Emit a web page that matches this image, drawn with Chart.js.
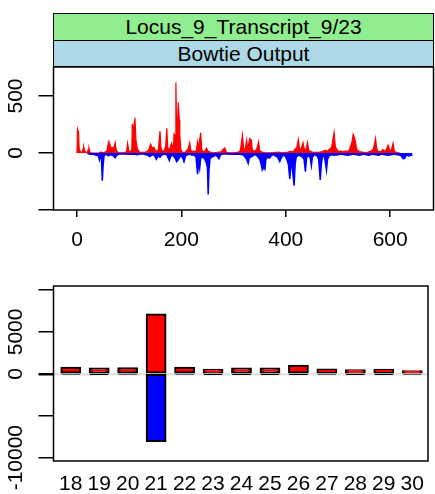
<!DOCTYPE html>
<html lang="en">
<head>
<meta charset="UTF-8">
<title>Locus_9_Transcript_9/23</title>
<script src="https://cdn.jsdelivr.net/npm/chart.js@4.4.0/dist/chart.umd.min.js"></script>
<style>
  body { margin: 0; background: #fff; font-family: 'Liberation Sans', Arial, sans-serif; }
  #wrap { position: relative; width: 435px; height: 494px; overflow: hidden; }
  canvas { position: absolute; left: 0; }
  .strip {
    position: absolute; left: 53px; width: 381px; box-sizing: border-box;
    border: 1.5px solid #000; display: flex; align-items: center; justify-content: center;
    font-size: 21px; color: #000;
  }
</style>
</head>
<body>
<div id="wrap">
  <canvas id="readsChart" width="435" height="262" style="top:0"></canvas>
  <canvas id="sizeChart" width="435" height="232" style="top:262px"></canvas>
  <div class="strip" style="top:13px;height:28px;background:#90ee90">Locus_9_Transcript_9/23</div>
  <div class="strip" style="top:40px;height:27px;background:#add8e6">Bowtie Output</div>
</div>
<script>
// position along transcript, read count (plus strand, red)
var plusReads = [[0,0],[1,210],[2,195],[3,185],[4,50],[6,15],[8,5],[10,10],[12,40],[13,55],[15,15],[18,5],[20,10],[22,35],[23,42],[25,5],[28,0],[42,0],[45,8],[48,3],[52,6],[56,12],[58,30],[60,90],[62,45],[63,78],[65,35],[67,50],[70,40],[72,70],[73,90],[75,30],[77,10],[80,3],[90,2],[95,12],[97,85],[99,20],[102,8],[105,30],[106,255],[108,190],[110,280],[111,310],[113,110],[115,50],[117,25],[120,5],[130,5],[135,15],[138,35],[141,78],[143,60],[145,35],[147,50],[150,25],[153,12],[156,30],[159,193],[161,45],[163,20],[166,12],[168,35],[170,60],[172,216],[174,45],[176,25],[178,40],[181,85],[183,50],[185,70],[186,167],[188,150],[189.5,617],[191,140],[192,190],[194,444],[196,290],[197,158],[199,30],[202,8],[206,3],[210,20],[213,35],[216,90],[218,25],[221,10],[224,18],[227,8],[229,30],[231,99],[233,45],[235,110],[237,178],[239,30],[242,8],[245,15],[248,41],[251,15],[254,10],[258,3],[262,2],[268,5],[272,8],[276,10],[280,32],[283,46],[286,8],[290,2],[302,3],[308,5],[313,20],[317,158],[319,45],[322,25],[325,113],[327,35],[331,128],[334,114],[336,25],[340,15],[344,30],[348,99],[350,20],[355,8],[360,3],[372,2],[386,8],[392,2],[404,8],[410,15],[414,10],[418,35],[421,45],[424,119],[426,45],[429,25],[433,90],[436,25],[439,35],[441.5,94],[444,20],[448,15],[452,5],[464,8],[470,12],[476,25],[480,15],[484,35],[488,50],[490,110],[492.5,181],[495,55],[498,30],[502,12],[506,18],[510,8],[514,18],[518,12],[522,30],[525,70],[527,100],[529,164],[531,140],[533,110],[535,55],[537,25],[541,12],[546,8],[552,3],[558,8],[564,18],[568,35],[572,129],[574,40],[577,15],[582,12],[586,30],[590,15],[593,35],[596,70],[599,25],[602,20],[605.5,85],[608,15],[612,5],[618,0]];

// minus strand (blue), drawn below zero
var minusReads = [[20,0],[22,-8],[26,-12],[30,-10],[34,-15],[38,-20],[41,-25],[43,-61],[45,-15],[47,-60],[48.5,-243],[50,-110],[52,-20],[56,-10],[60,-25],[64,-15],[68,-20],[71,-30],[73,-41],[76,-20],[80,-10],[86,-8],[92,-10],[98,-12],[104,-8],[110,-12],[116,-15],[120,-10],[126,-8],[132,-15],[136,-20],[140,-32],[144,-15],[148,-20],[152,-55],[155,-25],[159,-38],[163,-15],[168,-10],[172,-15],[177,-67],[180,-20],[184,-25],[188,-45],[191,-76],[194,-61],[197,-35],[200,-25],[203,-50],[205,-76],[208,-25],[212,-15],[216,-10],[220,-20],[224,-15],[228,-35],[231,-187],[233,-85],[235,-135],[237,-45],[241,-35],[245,-55],[248,-90],[250,-130],[251.3,-363],[253,-140],[255,-45],[259,-35],[263,-25],[267,-20],[272,-50],[275,-15],[280,-10],[288,-8],[296,-12],[304,-8],[312,-12],[318,-15],[322,-35],[325,-55],[328,-91],[330,-45],[333,-35],[337,-25],[341,-15],[345,-25],[350,-55],[353,-100],[355,-149],[358,-126],[360,-142],[362,-55],[365,-35],[369,-45],[372,-25],[376,-15],[380,-25],[384,-35],[388.5,-76],[391,-45],[394,-25],[398,-20],[402,-55],[405,-100],[407.7,-228],[410,-80],[412,-120],[414,-200],[416,-287],[418,-95],[420,-35],[424,-20],[428,-25],[432,-35],[435,-55],[437.6,-164],[440,-35],[444,-25],[447,-45],[449,-111],[451,-35],[455,-15],[459,-20],[463,-55],[466,-237],[468,-105],[470,-35],[474,-25],[478,-149],[480,-55],[483,-25],[488,-15],[494,-20],[500,-15],[506,-10],[512,-15],[518,-20],[524,-15],[530,-10],[536,-15],[542,-20],[548,-10],[554,-15],[560,-20],[566,-10],[572,-15],[578,-20],[584,-10],[590,-15],[596,-20],[602,-15],[608,-10],[614,-15],[620,-20],[625,-50],[628,-47],[631,-15],[635,-25],[640,-20],[641,0]];

var readTicksX = [0, 200, 400, 600];
var readTicksY = [-500, 0, 500];
var readLabelsY = { '500': '500', '0': '0' };

// read length distribution
var readSizes = [18, 19, 20, 21, 22, 23, 24, 25, 26, 27, 28, 29, 30];
var plusBySize = [720, 640, 670, 7070, 720, 480, 630, 630, 950, 510, 430, 500, 320];
var minusBySize = [-40, -30, -60, -8010, -40, -20, -30, -30, -30, -40, -20, -30, -40];
var sizeTicksY = [-10000, -5000, 0, 5000, 10000];
var sizeLabelsY = { '5000': '5000', '0': '0', '-10000': '-10000' };

Chart.defaults.font.family = "'Liberation Sans', Arial, sans-serif";
Chart.defaults.font.size = 21;
Chart.defaults.color = '#000';

// frame around the plotting region, like R's box()
var boxPlugin = {
  id: 'box',
  afterDraw: function (chart) {
    var a = chart.chartArea, ctx = chart.ctx;
    ctx.save();
    ctx.strokeStyle = '#000';
    ctx.lineWidth = 1.5;
    ctx.strokeRect(a.left, a.top, a.right - a.left, a.bottom - a.top);
    ctx.restore();
  }
};

function toPoints(arr) {
  return arr.map(function (p) { return { x: p[0], y: p[1] }; });
}

function pairUp(xs, ys) {
  return xs.map(function (x, i) { return { x: x, y: ys[i] }; });
}

function fixedTicks(values) {
  return function (scale) {
    scale.ticks = values.map(function (v) { return { value: v }; });
  };
}

// grow the bar so the outline sits on its edge, but not for slivers
function barInflate(c) {
  return c.raw && Math.abs(c.raw.y) > 100 ? 1 : 0;
}

var readsChart = new Chart(document.getElementById('readsChart'), {
  type: 'line',
  data: {
    datasets: [{
      data: toPoints(minusReads),
      borderColor: '#0000ff',
      backgroundColor: '#0000ff',
      borderWidth: 1.5,
      pointRadius: 0,
      fill: 'origin'
    }, {
      data: toPoints(plusReads),
      borderColor: '#ff0000',
      backgroundColor: '#ff0000',
      borderWidth: 1.2,
      pointRadius: 0,
      fill: 'origin'
    }]
  },
  options: {
    responsive: false,
    animation: false,
    devicePixelRatio: 1,
    layout: { padding: { top: 67, right: 1.5, left: 0, bottom: 0 } },
    plugins: { legend: { display: false }, tooltip: { enabled: false } },
    scales: {
      x: {
        type: 'linear',
        min: -45,
        max: 683,
        border: { display: false },
        grid: { drawOnChartArea: false, tickLength: 7, color: '#000', lineWidth: 1.5 },
        ticks: { autoSkip: false, maxRotation: 0, padding: 11 },
        afterBuildTicks: fixedTicks(readTicksX),
        afterFit: function (s) { s.height = 52; }
      },
      y: {
        min: -500,
        max: 754,
        border: { display: false },
        grid: { drawOnChartArea: false, tickLength: 15, color: '#000', lineWidth: 1.5 },
        ticks: {
          autoSkip: false, minRotation: 90, maxRotation: 90, crossAlign: 'center', padding: 5,
          callback: function (v) { return readLabelsY[String(v)] || ''; }
        },
        afterBuildTicks: fixedTicks(readTicksY),
        afterFit: function (s) { s.width = 53.5; }
      }
    }
  },
  plugins: [boxPlugin]
});

var sizeChart = new Chart(document.getElementById('sizeChart'), {
  type: 'bar',
  data: {
    datasets: [{
      data: pairUp(readSizes, plusBySize),
      backgroundColor: '#ff0000',
      borderColor: '#000',
      borderWidth: 2,
      borderSkipped: false,
      inflateAmount: barInflate
    }, {
      data: pairUp(readSizes, minusBySize),
      backgroundColor: '#0000ff',
      borderColor: '#000',
      borderWidth: 2,
      borderSkipped: false,
      inflateAmount: barInflate
    }]
  },
  options: {
    responsive: false,
    animation: false,
    devicePixelRatio: 1,
    layout: { padding: { top: 24, right: 1.5, left: 0, bottom: 0 } },
    plugins: { legend: { display: false }, tooltip: { enabled: false } },
    datasets: { bar: { categoryPercentage: 1, barPercentage: 0.66 } },
    scales: {
      x: {
        type: 'linear',
        offset: false,
        stacked: true,
        min: 17.394,
        max: 30.554,
        border: { display: false },
        grid: { display: false, drawTicks: false },
        ticks: { autoSkip: false, maxRotation: 0, padding: 11 },
        afterBuildTicks: fixedTicks(readSizes),
        afterFit: function (s) { s.height = 33; }
      },
      y: {
        stacked: true,
        min: -10400,
        max: 10480,
        border: { display: false },
        grid: {
          drawOnChartArea: true,
          tickLength: 15,
          lineWidth: function (c) { return c.tick && c.tick.value === 0 ? 2.5 : 1.5; },
          color: function (c) { return c.tick && c.tick.value === 0 ? '#e3e3e3' : 'rgba(0,0,0,0)'; },
          tickColor: '#000'
        },
        ticks: {
          autoSkip: false, minRotation: 90, maxRotation: 90, crossAlign: 'center', padding: -10,
          callback: function (v) { return sizeLabelsY[String(v)] || ''; }
        },
        afterBuildTicks: fixedTicks(sizeTicksY),
        afterFit: function (s) { s.width = 53.5; }
      }
    }
  },
  plugins: [boxPlugin]
});
</script>
</body>
</html>
